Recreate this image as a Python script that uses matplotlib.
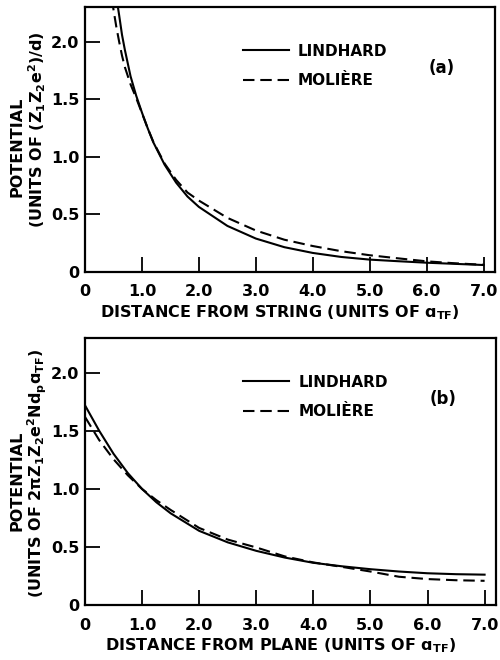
import matplotlib
matplotlib.use("Agg")
import matplotlib.pyplot as plt

plt.rcParams["font.family"] = ["DejaVu Sans"]
plt.rcParams["font.weight"] = "bold"
plt.rcParams["mathtext.default"] = "regular"

# (a) string potential
x_string = [0.45, 0.5, 0.55, 0.6, 0.65, 0.7, 0.8, 0.9, 1.0, 1.1, 1.2, 1.4, 1.6, 1.8,
            2.0, 2.5, 3.0, 3.5, 4.0, 4.5, 5.0, 5.5, 6.0, 6.5, 7.0]
lindhard_string = [2.75, 2.58, 2.39, 2.23, 2.06, 1.93, 1.70, 1.53, 1.385, 1.25, 1.126,
                   0.93, 0.776, 0.655, 0.565, 0.40, 0.29, 0.215, 0.165, 0.13, 0.107,
                   0.093, 0.08, 0.07, 0.06]
moliere_string = [2.45, 2.28, 2.13, 2.0, 1.88, 1.78, 1.63, 1.51, 1.38, 1.25, 1.13,
                  0.94, 0.80, 0.69, 0.62, 0.47, 0.36, 0.28, 0.225, 0.18, 0.145,
                  0.118, 0.092, 0.075, 0.062]

# (b) planar potential
x_plane = [0, 0.25, 0.5, 0.75, 1.0, 1.25, 1.5, 2.0, 2.5, 3.0, 3.5, 4.0, 4.5, 5.0,
           5.5, 6.0, 6.5, 7.0]
lindhard_plane = [1.72, 1.50, 1.303, 1.137, 1.0, 0.886, 0.791, 0.640, 0.541, 0.468,
                  0.41, 0.365, 0.335, 0.31, 0.29, 0.275, 0.267, 0.263]
moliere_plane = [1.62, 1.42, 1.256, 1.118, 1.0, 0.904, 0.82, 0.665, 0.565, 0.497,
                 0.42, 0.368, 0.33, 0.29, 0.245, 0.225, 0.215, 0.21]

xticks = [0, 1, 2, 3, 4, 5, 6, 7]
xticklabels = ["0", "1.0", "2.0", "3.0", "4.0", "5.0", "6.0", "7.0"]
yticks = [0, 0.5, 1.0, 1.5, 2.0]
yticklabels = ["0", "0.5", "1.0", "1.5", "2.0"]

fig = plt.figure(figsize=(5, 6.6), dpi=100)
ax_a = fig.add_axes([0.17, 0.588, 0.82, 0.401])
ax_b = fig.add_axes([0.17, 0.083, 0.822, 0.405])

panels = [
    (ax_a, x_string, lindhard_string, moliere_string, "(a)",
     "DISTANCE FROM STRING (UNITS OF ɑ$_{TF}$)",
     "(UNITS OF (Z$_1$Z$_2$e$^2$)/d)", 0.536, 0.472),
    (ax_b, x_plane, lindhard_plane, moliere_plane, "(b)",
     "DISTANCE FROM PLANE (UNITS OF ɑ$_{TF}$)",
     "(UNITS OF 2πZ$_1$Z$_2$e$^2$Nd$_p$ɑ$_{TF}$)", 0.494, 0.464),
]

for ax, xs, lin, mol, tag, xlab, unit, uy, py in panels:
    ax.plot(xs, lin, color="black", lw=1.5, label="LINDHARD")
    ax.plot(xs, mol, color="black", lw=1.5, dashes=(5.5, 2.8), label="MOLIÈRE")
    ax.set_xlim(0, 7.2)
    ax.set_ylim(0, 2.3)
    ax.set_xticks(xticks)
    ax.set_xticklabels(xticklabels)
    ax.set_yticks(yticks)
    ax.set_yticklabels(yticklabels)
    ax.tick_params(direction="in", length=11, width=1.3, labelsize=11.5, colors="black")
    ax.tick_params(axis="x", pad=9)
    ax.tick_params(axis="y", pad=4)
    for s in ax.spines.values():
        s.set_linewidth(1.6)
    ax.legend(loc="upper left", bbox_to_anchor=(0.37, 0.885), frameon=False,
              prop={"size": 11, "weight": "bold"}, handlelength=3.0,
              handletextpad=0.6, labelspacing=0.95, borderaxespad=0)
    ax.text(0.87, 0.772, tag, transform=ax.transAxes, fontsize=12,
            ha="center", va="center")
    ax.text(0.475, -0.153, xlab, transform=ax.transAxes, fontsize=11.5,
            ha="center", va="center")
    ax.text(-0.166, py, "POTENTIAL", transform=ax.transAxes, fontsize=11.5,
            rotation=90, ha="center", va="center")
    ax.text(-0.117, uy, unit, transform=ax.transAxes, fontsize=11.5,
            rotation=90, ha="center", va="center")

fig.savefig("out.png", dpi=100)
